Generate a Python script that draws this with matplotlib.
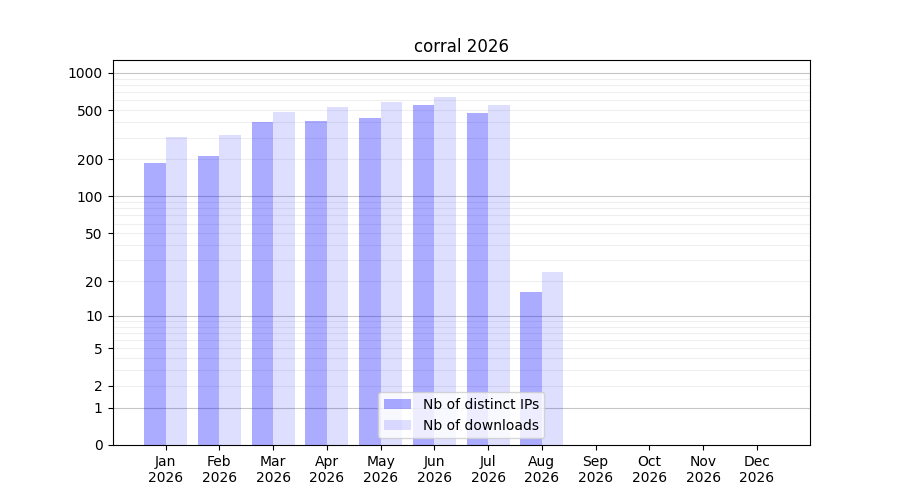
import numpy as np
import matplotlib
matplotlib.use('Agg')
import matplotlib.pyplot as plt

# Monthly stats
months = ['Jan', 'Feb', 'Mar', 'Apr', 'May', 'Jun', 'Jul', 'Aug', 'Sep', 'Oct', 'Nov', 'Dec']
year = '2026'
distinct_ips = [186, 213, 402, 409, 433, 551, 475, 16, 0, 0, 0, 0]
downloads = [304, 315, 484, 531, 583, 640, 551, 24, 0, 0, 0, 0]
yticks = [0, 1, 2, 5, 10, 20, 50, 100, 200, 500, 1000]


def fwd(v):
    return np.log10(1 + np.asarray(v, dtype=float))


def inv(v):
    return 10 ** np.asarray(v, dtype=float) - 1


fig, ax = plt.subplots(figsize=(9, 5), dpi=100)
ax.set_yscale('function', functions=(fwd, inv))

x = np.arange(len(months))
width = 0.4

# grid: darker at decades, lighter in between
for k in range(4):
    ax.axhline(10 ** k, color='gray', alpha=0.45, lw=0.8, zorder=0)
    if k < 3:
        for m in range(2, 10):
            ax.axhline(m * 10 ** k, color='gray', alpha=0.12, lw=0.8, zorder=0)

ax.bar(x - width / 2, distinct_ips, width, color='blue', alpha=0.33, label='Nb of distinct IPs', zorder=2)
ax.bar(x + width / 2, downloads, width, color='blue', alpha=0.13, label='Nb of downloads', zorder=2)

ax.set_ylim(0, 1270)
ax.set_yticks(yticks)
ax.set_yticklabels([str(t) for t in yticks])
ax.minorticks_off()
ax.set_xticks(x)
ax.set_xticklabels([m + '\n' + year for m in months])
ax.set_title('corral 2026')
ax.legend(loc='lower center')

plt.savefig('out.png')
